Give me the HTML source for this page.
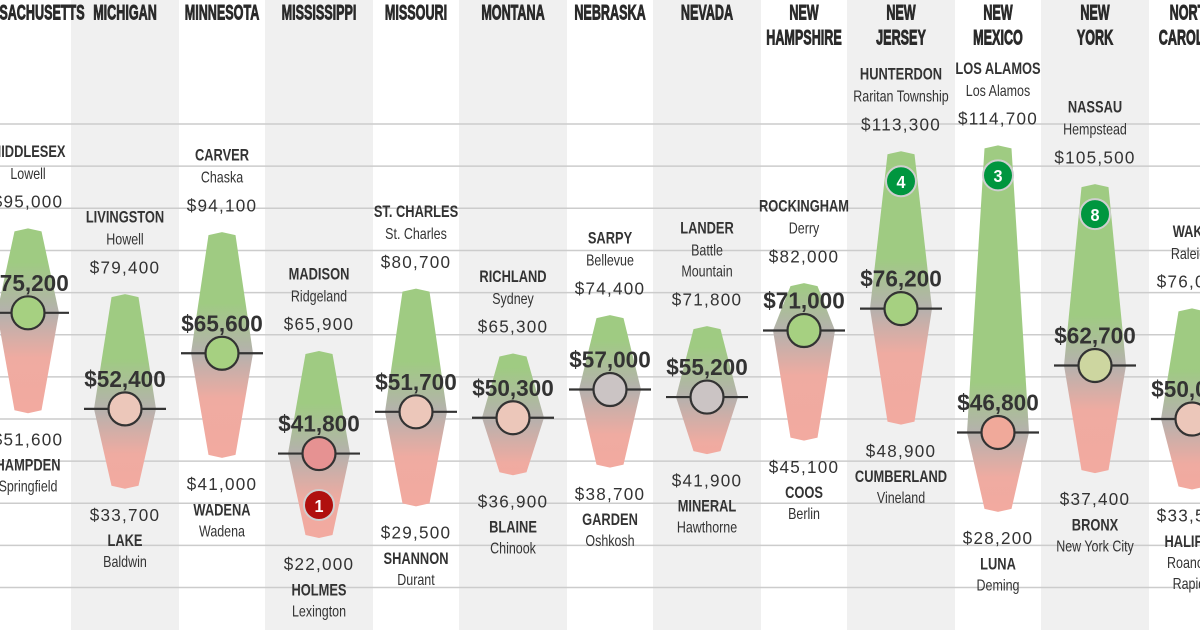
<!DOCTYPE html>
<html><head><meta charset="utf-8"><style>
html,body{margin:0;padding:0;background:#fff;}
svg{display:block;font-family:"Liberation Sans",sans-serif;}
</style></head><body>
<svg id="chart" width="1200" height="630" viewBox="0 0 1200 630" xmlns="http://www.w3.org/2000/svg">
<defs id="defs"></defs>
<g id="bands"></g>
<g id="grid"></g>
<g id="cols"></g>
</svg>
<script>
const states = [["MASSACHUSETTS"],["MICHIGAN"],["MINNESOTA"],["MISSISSIPPI"],["MISSOURI"],["MONTANA"],["NEBRASKA"],["NEVADA"],["NEW","HAMPSHIRE"],["NEW","JERSEY"],["NEW","MEXICO"],["NEW","YORK"],["NORTH","CAROLINA"]];
const topCounty = ["MIDDLESEX","LIVINGSTON","CARVER","MADISON","ST. CHARLES","RICHLAND","SARPY","LANDER","ROCKINGHAM","HUNTERDON","LOS ALAMOS","NASSAU","WAKE"];
const topCity = [["Lowell"],["Howell"],["Chaska"],["Ridgeland"],["St. Charles"],["Sydney"],["Bellevue"],["Battle","Mountain"],["Derry"],["Raritan Township"],["Los Alamos"],["Hempstead"],["Raleigh"]];
const maxValues = [95000,79400,94100,65900,80700,65300,74400,71800,82000,113300,114700,105500,76000];
const medianValues = [75200,52400,65600,41800,51700,50300,57000,55200,71000,76200,46800,62700,50000];
const minValues = [51600,33700,41000,22000,29500,36900,38700,41900,45100,48900,28200,37400,33500];
const botCounty = ["HAMPDEN","LAKE","WADENA","HOLMES","SHANNON","BLAINE","GARDEN","MINERAL","COOS","CUMBERLAND","LUNA","BRONX","HALIFAX"];
const botCity = [["Springfield"],["Baldwin"],["Wadena"],["Lexington"],["Durant"],["Chinook"],["Oshkosh"],["Hawthorne"],["Berlin"],["Vineland"],["Deming"],["New York City"],["Roanoke","Rapids"]];
const rankTop = [0,0,0,0,0,0,0,0,0,4,3,8,0];
const rankBottom = [0,0,0,1,0,0,0,0,0,0,0,0,0];
const gridValues = [10000,20000,30000,40000,50000,60000,70000,80000,90000,100000,110000,120000];

const NS="http://www.w3.org/2000/svg";
function y(v){return 629.7 - v*0.004214;}
function x(i){return 28 + i*97;}
function fmt(v){return "$"+v.toLocaleString("en-US");}
function mk(tag,attrs,parent){const e=document.createElementNS(NS,tag);for(const k in attrs)e.setAttribute(k,attrs[k]);parent.appendChild(e);return e;}
function circleColor(m){
  if(m>=65000) return "#a6d081";
  if(m>=60000) return "#cdd6a0";
  if(m>=54000) return "#cbc4c4";
  if(m>=48000) return "#ecc7ba";
  if(m>=44000) return "#f0a99a";
  return "#e69292";
}
const defs=document.getElementById('defs');
const bands=document.getElementById('bands');
const grid=document.getElementById('grid');
const cols=document.getElementById('cols');

states.forEach((s,i)=>{
  if(i%2===1){
    const r=mk('rect',{x:x(i)-54,y:0,width:108,height:630,fill:"#f0f0f0"},bands);
    
    
  }
});
gridValues.forEach(v=>{
  const l=mk('line',{x1:0,x2:1200,y1:y(v),y2:y(v),stroke:"#cccccc","stroke-width":1.5},grid);
  
  
});

function txt(parent,str,tx,ty,size,weight,sx,extra){
  const t=mk('text',Object.assign({x:0,y:0,transform:`translate(${tx},${ty}) scale(${sx},1)`,"text-anchor":"middle","dominant-baseline":"central","font-size":size,"font-weight":weight,fill:"#333"},extra||{}),parent);
  t.textContent=str;return t;
}

states.forEach((s,i)=>{
  const cx=x(i);
  const g=mk('g',{},cols);
  
  
  s.forEach((w,k)=>{
    const t=txt(g,w,cx,12+k*25,21,"bold",0.6,{fill:"#2a2a2a","stroke":"#2a2a2a","stroke-width":0.9});
    
    
  });
  const yt=y(maxValues[i]), ym=y(medianValues[i]), yb=y(minValues[i]);
  const gid='grad'+i;
  const lg=mk('linearGradient',{id:gid,gradientUnits:"userSpaceOnUse",x1:0,x2:0,y1:yt,y2:yb},defs);
  const h=yb-yt;
  const off=v=>Math.max(0,Math.min(1,(v-yt)/h));
  mk('stop',{offset:off(ym-50),"stop-color":"#9fcb82"},lg);
  mk('stop',{offset:off(ym),"stop-color":"#b5b1ad"},lg);
  mk('stop',{offset:off(ym+45),"stop-color":"#efaba1"},lg);
  mk('stop',{offset:1,"stop-color":"#f2aaa0"},lg);
  const d=`M${cx-13.5},${yt+2} L${cx},${yt-1} L${cx+13.5},${yt+2} L${cx+31},${ym} L${cx+13.5},${yb-2} L${cx},${yb+1} L${cx-13.5},${yb-2} L${cx-31},${ym} Z`;
  const p=mk('path',{d:d,fill:`url(#${gid})`},g);
  
  
  const tc=topCity[i];
  const vy=yt-28;
  const tv=txt(g,fmt(maxValues[i]),cx,vy,18,"normal",0.95,{"letter-spacing":"1.3"});
  
  
  tc.slice().reverse().forEach((c,k)=>{
    const t=txt(g,c,cx,vy-27-k*21,16,"normal",0.78);
    
    
  });
  const tcn=txt(g,topCounty[i],cx,vy-27-tc.length*21-1,16.5,"bold",0.78);
  
  
  const by=yb+27;
  const bv=txt(g,fmt(minValues[i]),cx,by,18,"normal",0.95,{"letter-spacing":"1.3"});
  
  
  const bcn=txt(g,botCounty[i],cx,by+27,16.5,"bold",0.78);
  
  
  botCity[i].forEach((c,k)=>{
    const t=txt(g,c,cx,by+48+k*21,16,"normal",0.78);
    
    
  });
  const ml=mk('line',{x1:cx-41,x2:cx+41,y1:ym,y2:ym,stroke:"#333","stroke-width":2.2},g);
  
  
  const mc=mk('circle',{cx:cx,cy:ym,r:16.5,fill:circleColor(medianValues[i]),stroke:"#333","stroke-width":2.2},g);
  
  
  const mt=txt(g,fmt(medianValues[i]),cx,ym-30,23,"bold",0.98);
  
  
  if(rankTop[i]){
    const rc=mk('circle',{cx:cx,cy:yt+29,r:15,fill:"#00963f",stroke:"#cfcfcf","stroke-width":2},g);
    
    
    const rt=txt(g,String(rankTop[i]),cx,yt+30,18,"bold",0.9,{fill:"#fff"});
    
    
  }
  if(rankBottom[i]){
    const rc=mk('circle',{cx:cx,cy:yb-32,r:15,fill:"#b0100e",stroke:"#cfcfcf","stroke-width":2},g);
    
    
    const rt=txt(g,String(rankBottom[i]),cx,yb-31,18,"bold",0.9,{fill:"#fff"});
    
    
  }
});
</script>
</body></html>
